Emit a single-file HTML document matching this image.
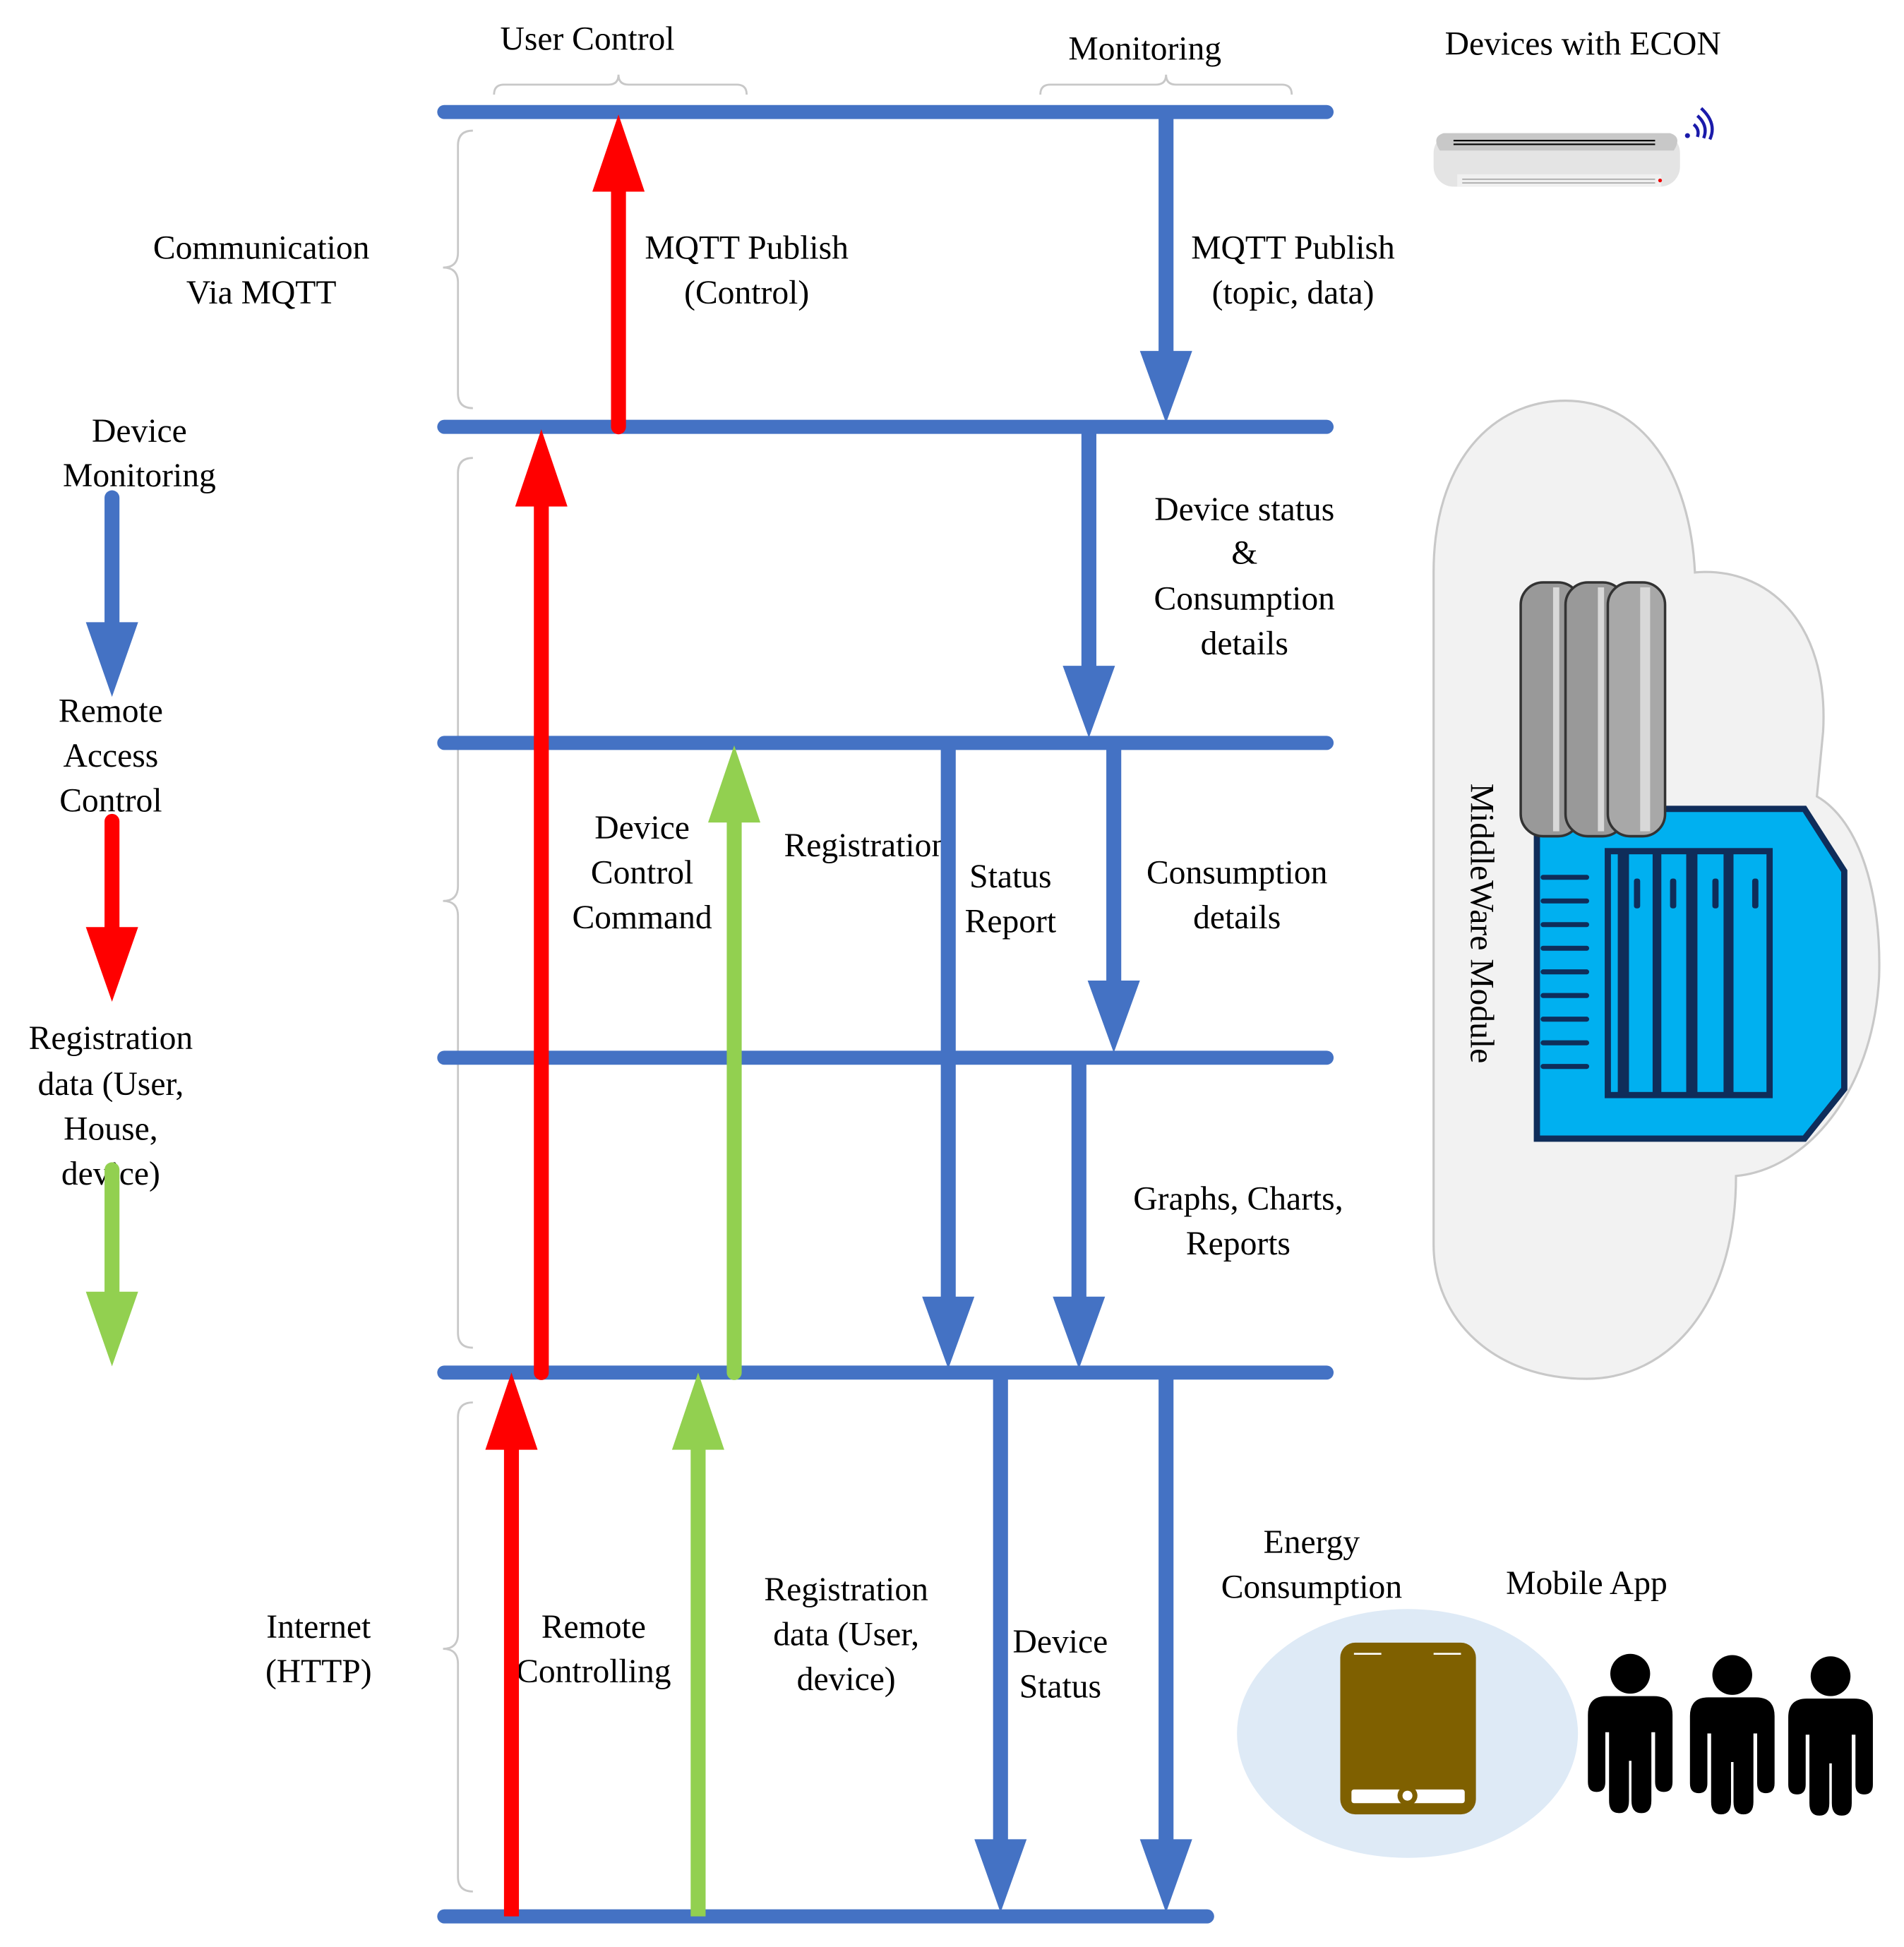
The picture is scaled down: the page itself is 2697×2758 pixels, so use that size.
<!DOCTYPE html>
<html><head><meta charset="utf-8"><style>
html,body{margin:0;padding:0;background:#fff;}
svg{display:block;}
svg text{font-family:'Liberation Serif','Times New Roman','DejaVu Serif',serif;font-size:27px;fill:#000;text-anchor:middle;}
</style></head><body>
<svg width="2697" height="2758" viewBox="0 0 1530 1564.6" xmlns="http://www.w3.org/2000/svg" font-family="Liberation Serif, serif">
<rect width="1530" height="1564.6" fill="#fff"/>
<g fill="none" stroke="#c8c8c8" stroke-width="1.6">
<path d="M397,76 Q397,68 405,68 L489,68 Q497,68 497,60 Q497,68 505,68 L592,68 Q600,68 600,76"/>
<path d="M836,76 Q836,68 844,68 L929,68 Q937,68 937,60 Q937,68 945,68 L1030,68 Q1038,68 1038,76"/>
<path d="M380,105 Q368,105 368,117 L368,203 Q368,215 356,215 Q368,215 368,227 L368,316 Q368,328 380,328"/>
<path d="M380,368 Q368,368 368,380 L368,712 Q368,724 356,724 Q368,724 368,736 L368,1071 Q368,1083 380,1083"/>
<path d="M380,1127 Q368,1127 368,1139 L368,1313 Q368,1325 356,1325 Q368,1325 368,1337 L368,1508 Q368,1520 380,1520"/>
</g>
<g font-family="Liberation Serif, serif">
<text x="472" y="40">User Control</text>
<text x="920" y="48">Monitoring</text>
<text x="1272" y="44">Devices with ECON</text>
<text x="210" y="208">Communication</text><text x="210" y="244">Via MQTT</text>
<text x="600" y="208">MQTT Publish</text><text x="600" y="244">(Control)</text>
<text x="1039" y="208">MQTT Publish</text><text x="1039" y="244">(topic, data)</text>
<text x="112" y="355">Device</text><text x="112" y="391">Monitoring</text>
<text x="1000" y="418">Device status</text><text x="1000" y="453">&amp;</text><text x="1000" y="490">Consumption</text><text x="1000" y="526">details</text>
<text x="89" y="580">Remote</text><text x="89" y="616">Access</text><text x="89" y="652">Control</text>
<text x="516" y="674">Device</text><text x="516" y="710">Control</text><text x="516" y="746">Command</text>
<text x="696" y="688">Registration</text>
<text x="812" y="713">Status</text><text x="812" y="749">Report</text>
<text x="994" y="710">Consumption</text><text x="994" y="746">details</text>
<text x="89" y="843">Registration</text><text x="89" y="880">data (User,</text><text x="89" y="916">House,</text><text x="89" y="952">device)</text>
<text x="995" y="972">Graphs, Charts,</text><text x="995" y="1008">Reports</text>
<text x="1054" y="1248">Energy</text><text x="1054" y="1284">Consumption</text>
<text x="1275" y="1281">Mobile App</text>
<text x="256" y="1316">Internet</text><text x="256" y="1352">(HTTP)</text>
<text x="477" y="1316">Remote</text><text x="477" y="1352">Controlling</text>
<text x="680" y="1286">Registration</text><text x="680" y="1322">data (User,</text><text x="680" y="1358">device)</text>
<text x="852" y="1328">Device</text><text x="852" y="1364">Status</text>
</g>
<g stroke="#4472C4" stroke-width="11.3" stroke-linecap="round">
<line x1="357" y1="90" x2="1066" y2="90"/>
<line x1="357" y1="343" x2="1066" y2="343"/>
<line x1="357" y1="597" x2="1066" y2="597"/>
<line x1="357" y1="850" x2="1066" y2="850"/>
<line x1="357" y1="1103" x2="1066" y2="1103"/>
<line x1="357" y1="1540" x2="970" y2="1540"/>
</g>
<g stroke-width="12" stroke-linecap="round">
<line x1="497" y1="343" x2="497" y2="150" stroke="#FF0000"/>
<line x1="435" y1="1103" x2="435" y2="402" stroke="#FF0000"/>
<line x1="590" y1="1103" x2="590" y2="656" stroke="#92D050"/>
<line x1="411" y1="1540" x2="411" y2="1163" stroke="#FF0000" stroke-linecap="butt"/>
<line x1="561" y1="1540" x2="561" y2="1163" stroke="#92D050" stroke-linecap="butt"/>
<line x1="90" y1="400" x2="90" y2="505" stroke="#4472C4"/>
<line x1="90" y1="660" x2="90" y2="750" stroke="#FF0000"/>
<line x1="90" y1="940" x2="90" y2="1042" stroke="#92D050"/>
<line x1="937" y1="95" x2="937" y2="285" stroke="#4472C4" stroke-linecap="butt"/>
<line x1="875" y1="343" x2="875" y2="538" stroke="#4472C4" stroke-linecap="butt"/>
<line x1="762" y1="597" x2="762" y2="1045" stroke="#4472C4" stroke-linecap="butt"/>
<line x1="895" y1="597" x2="895" y2="791" stroke="#4472C4" stroke-linecap="butt"/>
<line x1="867" y1="850" x2="867" y2="1045" stroke="#4472C4" stroke-linecap="butt"/>
<line x1="804" y1="1103" x2="804" y2="1480" stroke="#4472C4" stroke-linecap="butt"/>
<line x1="937" y1="1103" x2="937" y2="1480" stroke="#4472C4" stroke-linecap="butt"/>
</g>
<g>
<polygon points="497,92 476,154 518,154" fill="#FF0000"/>
<polygon points="435,345 414,407 456,407" fill="#FF0000"/>
<polygon points="590,599 569,661 611,661" fill="#92D050"/>
<polygon points="411,1103 390,1165 432,1165" fill="#FF0000"/>
<polygon points="561,1103 540,1165 582,1165" fill="#92D050"/>
<polygon points="937,340 916,282 958,282" fill="#4472C4"/>
<polygon points="875,593 854,535 896,535" fill="#4472C4"/>
<polygon points="762,1100 741,1042 783,1042" fill="#4472C4"/>
<polygon points="895,846 874,788 916,788" fill="#4472C4"/>
<polygon points="867,1100 846,1042 888,1042" fill="#4472C4"/>
<polygon points="804,1537 783,1478 825,1478" fill="#4472C4"/>
<polygon points="937,1537 916,1478 958,1478" fill="#4472C4"/>
<polygon points="90,560 69,500 111,500" fill="#4472C4"/>
<polygon points="90,805 69,745 111,745" fill="#FF0000"/>
<polygon points="90,1098 69,1038 111,1038" fill="#92D050"/>
</g>
<rect x="1152" y="107" width="198" height="43" rx="16" fill="#e4e4e4"/>
<path d="M1160,107 L1342,107 Q1352,110 1345,121 L1157,121 Q1150,110 1160,107Z" fill="#c8c8c8"/>
<line x1="1168" y1="113" x2="1330" y2="113" stroke="#000" stroke-width="1.2"/>
<line x1="1168" y1="116" x2="1330" y2="116" stroke="#000" stroke-width="1.2"/>
<rect x="1171" y="140" width="164" height="10" fill="#f0f0f0"/>
<line x1="1175" y1="144" x2="1330" y2="144" stroke="#aaa" stroke-width="1"/>
<line x1="1175" y1="147" x2="1330" y2="147" stroke="#aaa" stroke-width="1"/>
<circle cx="1334" cy="145" r="1.5" fill="#e00"/>
<g fill="none" stroke="#1a1aaa" stroke-width="2.5">
<path d="M1361,100 Q1366,104 1364,110"/>
<path d="M1364,93 Q1373,101 1369,111"/>
<path d="M1367,87 Q1380,99 1374,112"/>
</g>
<circle cx="1356" cy="109" r="2" fill="#1a1aaa"/>
<path d="M1152,1000 L1152,460 C1152,370 1200,322 1258,322 C1320,322 1358,380 1362,460 C1420,455 1470,500 1465,588 L1460,640 C1495,660 1512,720 1510,785 C1505,880 1450,940 1395,945 C1395,1050 1340,1108 1275,1108 C1200,1108 1152,1060 1152,1000Z" fill="#f2f2f2" stroke="#c8c8c8" stroke-width="1.8"/>
<path d="M1235,650 L1450,650 L1482,700 L1482,875 L1450,915 L1235,915Z" fill="#00B0F0" stroke="#0F2D5A" stroke-width="5"/>
<g stroke="#0F2D5A" stroke-width="4" stroke-linecap="round">
<line x1="1240" y1="705" x2="1275" y2="705"/><line x1="1240" y1="724" x2="1275" y2="724"/>
<line x1="1240" y1="743" x2="1275" y2="743"/><line x1="1240" y1="762" x2="1275" y2="762"/>
<line x1="1240" y1="781" x2="1275" y2="781"/><line x1="1240" y1="800" x2="1275" y2="800"/>
<line x1="1240" y1="819" x2="1275" y2="819"/><line x1="1240" y1="838" x2="1275" y2="838"/>
<line x1="1240" y1="857" x2="1275" y2="857"/>
</g>
<rect x="1292" y="684" width="130" height="196" fill="none" stroke="#0F2D5A" stroke-width="5"/>
<g fill="#0F2D5A">
<rect x="1300" y="684" width="9" height="196"/><rect x="1328" y="684" width="7" height="196"/>
<rect x="1355" y="684" width="9" height="196"/><rect x="1385" y="684" width="8" height="196"/>
<rect x="1313" y="706" width="5" height="24" rx="2"/><rect x="1342" y="706" width="5" height="24" rx="2"/>
<rect x="1376" y="706" width="5" height="24" rx="2"/><rect x="1408" y="706" width="5" height="24" rx="2"/>
</g>
<g stroke="#333" stroke-width="2">
<rect x="1222" y="468" width="48" height="204" rx="18" fill="#999"/>
<rect x="1258" y="468" width="48" height="204" rx="18" fill="#999"/>
<rect x="1292" y="468" width="46" height="204" rx="18" fill="#a8a8a8"/>
</g>
<g fill="#d8d8d8"><rect x="1248" y="472" width="5" height="196"/><rect x="1284" y="472" width="5" height="196"/><rect x="1318" y="472" width="8" height="196"/></g>
<text transform="translate(1182,742) rotate(90)" x="0" y="0" font-family="Liberation Serif, serif">MiddleWare Module</text>
<ellipse cx="1131" cy="1393" rx="137" ry="100" fill="#DEEAF6"/>
<rect x="1077" y="1320" width="109" height="138" rx="12" fill="#7F6000"/>
<line x1="1088" y1="1329" x2="1110" y2="1329" stroke="#fff" stroke-width="1.5"/>
<line x1="1152" y1="1329" x2="1174" y2="1329" stroke="#fff" stroke-width="1.5"/>
<rect x="1086" y="1438" width="91" height="11" rx="2" fill="#fff"/>
<circle cx="1131" cy="1443" r="8" fill="#7F6000"/><circle cx="1131" cy="1443" r="4" fill="#fff"/>
<g fill="#000">
<g id="p1">
<circle cx="1310" cy="1345" r="16"/>
<path d="M1276,1378 Q1276,1363 1291,1363 L1329,1363 Q1344,1363 1344,1378 L1344,1432 Q1344,1440 1337,1440 Q1330,1440 1330,1432 L1330,1392 L1327,1392 L1327,1447 Q1327,1457 1319,1457 Q1311,1457 1311,1447 L1311,1415 L1309,1415 L1309,1447 Q1309,1457 1301,1457 Q1293,1457 1293,1447 L1293,1392 L1290,1392 L1290,1432 Q1290,1440 1283,1440 Q1276,1440 1276,1432Z"/>
</g>
<use href="#p1" transform="translate(82,1)"/>
<use href="#p1" transform="translate(161,2)"/>
</g>
</svg>
</body></html>
